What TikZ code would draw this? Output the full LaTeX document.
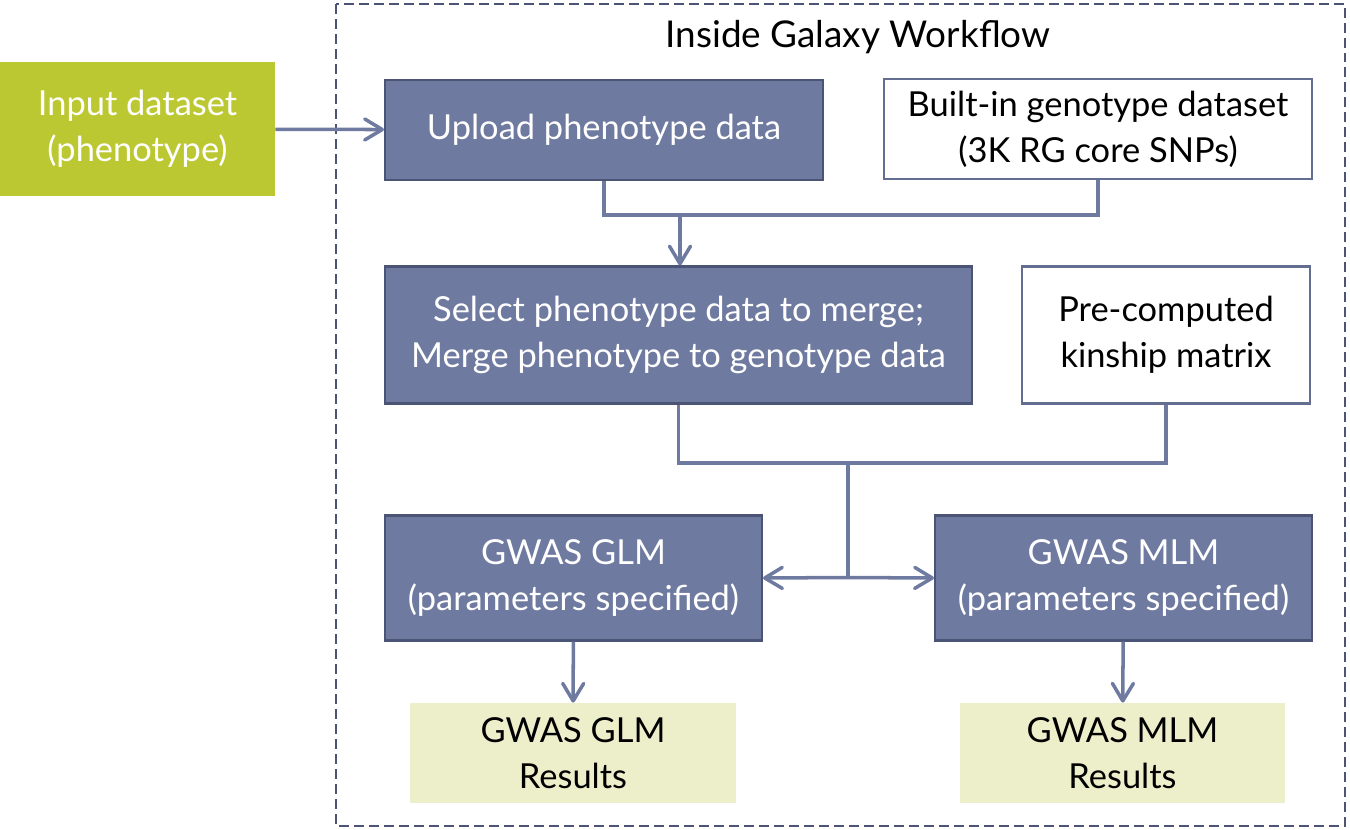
\documentclass[tikz,border=0pt]{standalone}
\usepackage{fontspec}
\setmainfont{Lato}
\usepackage{tikz}
\usetikzlibrary{arrows.meta, positioning}
\definecolor{slate}{RGB}{111,122,160}
\definecolor{slatedark}{RGB}{76,84,118}
\definecolor{lime}{RGB}{188,200,50}
\definecolor{paleres}{RGB}{237,239,202}
\tikzstyle{tool} = [rectangle, draw=slatedark, line width=1.2pt, fill=slate, text=white, align=center, font=\fontsize{19.6}{26}\selectfont]
\tikzstyle{data} = [rectangle, draw=slate!90!black, line width=1.2pt, fill=white, align=center, font=\fontsize{19.6}{26}\selectfont]
\tikzstyle{result} = [rectangle, fill=paleres, align=center, font=\fontsize{19.6}{26}\selectfont]
\tikzstyle{link} = [draw=slate, line width=2pt]
\tikzstyle{arrow} = [link, -{Straight Barb[length=3.5mm, width=4.2mm, round]}]

\begin{document}
\begin{tikzpicture}[x=0.02cm, y=-0.02cm] % one unit = one pixel of the reference
        \useasboundingbox (0,0) rectangle (1350,829);

        % Workflow frame
        \draw [slatedark, line width=1.2pt, dash pattern=on 0.2cm off 0.1cm] (336,4) rectangle (1345,826);
        \node (title) at (858,37) [font=\fontsize{21}{24}\selectfont] {Inside Galaxy Workflow};

        % Nodes at pixel positions of the reference
        \node (input) at (137.5,129) [rectangle, fill=lime, text=white, align=center, minimum width=5.5cm, minimum height=2.7cm, font=\fontsize{19.6}{26}\selectfont] {Input dataset\\(phenotype)};
        \node (upload) at (604,130) [tool, minimum width=8.76cm, minimum height=2cm] {Upload phenotype data};
        \node (geno) at (1098,129) [data, minimum width=8.56cm, minimum height=2cm] {Built-in genotype dataset\\(3K RG core SNPs)};
        \node (merge) at (678.5,335) [tool, minimum width=11.74cm, minimum height=2.74cm] {Select phenotype data to merge;\\Merge phenotype to genotype data};
        \node (kinship) at (1166,335) [data, minimum width=5.76cm, minimum height=2.74cm] {Pre-computed\\kinship matrix};
        \node (glm) at (573.5,578) [tool, minimum width=7.54cm, minimum height=2.5cm] {GWAS GLM\\(parameters specified)};
        \node (mlm) at (1123.5,578) [tool, minimum width=7.54cm, minimum height=2.5cm] {GWAS MLM\\(parameters specified)};
        \node (glmres) at (573,753) [result, minimum width=6.52cm, minimum height=2cm] {GWAS GLM\\Results};
        \node (mlmres) at (1122.5,753) [result, minimum width=6.5cm, minimum height=2cm] {GWAS MLM\\Results};

        % Joining points of the connectors
        \coordinate (join1) at (680,215);
        \coordinate (join2) at (848,463);
        \coordinate (split) at (848,577.5);

        % Connectors
        \draw [arrow] (input) -- (upload);
        \draw [link] (upload.south) |- (join1) -| (geno.south);
        \draw [arrow] (join1) -- (join1 |- merge.north);
        \draw [link] (merge.south) |- (join2) -| (kinship.south);
        \draw [link] (join2) -- (split);
        \draw [arrow] (split) -- (glm.east);
        \draw [arrow] (split) -- (mlm.west);
        \draw [arrow] (glm) -- (glmres);
        \draw [arrow] (mlm) -- (mlmres);

    \end{tikzpicture}
\end{document}
